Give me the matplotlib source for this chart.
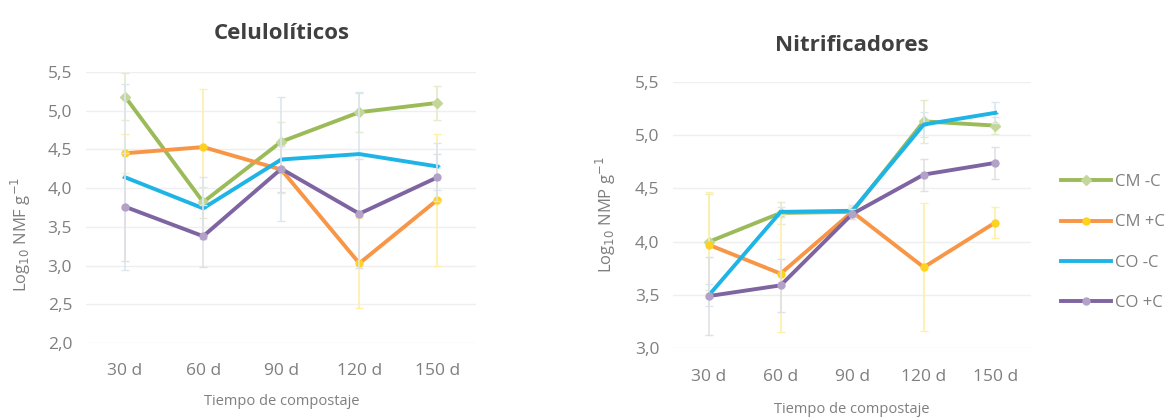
import matplotlib.pyplot as plt
from matplotlib.ticker import FuncFormatter, MultipleLocator
import numpy as np

days = ["30 d", "60 d", "90 d", "120 d", "150 d"]
series = ["CM -C", "CM +C", "CO -C", "CO +C"]

# Celuloliticos (log10 NMF g-1)
cel_cm_mc = [5.18, 3.82, 4.60, 4.98, 5.10]
cel_cm_pc = [4.45, 4.53, 4.24, 3.03, 3.85]
cel_co_mc = [4.14, 3.74, 4.37, 4.44, 4.28]
cel_co_pc = [3.76, 3.38, 4.25, 3.67, 4.14]
cel_err_cm_mc = [0.30, 0.20, 0.25, 0.25, 0.22]
cel_err_cm_pc = [0.25, 0.75, 0.30, 0.58, 0.85]
cel_err_co_mc = [1.20, 0.40, 0.80, 0.80, 0.30]
cel_err_co_pc = [0.70, 0.40, 0.30, 0.70, 0.30]

# Nitrificadores (log10 NMP g-1)
nit_cm_mc = [4.00, 4.27, 4.28, 5.13, 5.09]
nit_cm_pc = [3.97, 3.70, 4.28, 3.76, 4.18]
nit_co_mc = [3.50, 4.28, 4.29, 5.10, 5.21]
nit_co_pc = [3.49, 3.59, 4.26, 4.63, 4.74]
nit_err_cm_mc = [0.45, 0.10, 0.05, 0.20, 0.08]
nit_err_cm_pc = [0.50, 0.55, 0.05, 0.60, 0.15]
nit_err_co_mc = [0.10, 0.05, 0.05, 0.12, 0.10]
nit_err_co_pc = [0.37, 0.25, 0.05, 0.15, 0.15]

colors = ["#9BBB59", "#F79646", "#1EB4E6", "#7F64A2"]
err_colors = ["#E3ECCB", "#FFEFA8", "#DCE6EE", "#E0E0E6"]
markers = ["D", "o", "_", "o"]
mfc = ["#C4D79B", "#FFD21F", "#1EB4E6", "#B3A2C7"]
TXT = "#7F7F7F"

plt.rcParams["font.family"] = ["Open Sans", "DejaVu Sans"]

fig = plt.figure(figsize=(11.69, 4.18), dpi=100)
ax1 = fig.add_axes([0.0736, 0.179, 0.334, 0.649])
ax2 = fig.add_axes([0.576, 0.167, 0.306, 0.637])

comma = FuncFormatter(lambda v, p: f"{v:.1f}".replace(".", ","))
x = np.arange(len(days))


def draw(ax, vals, errs, ylim, title, ylabel, tpad, xpad, tipad, ycoords):
    lines = []
    for i, (v, e) in enumerate(zip(vals, errs)):
        cont = ax.errorbar(x, v, yerr=e, color=colors[i], ecolor=err_colors[i],
                           elinewidth=1.2, capsize=3, capthick=1, lw=2.8,
                           marker=markers[i], ms=5, mfc=mfc[i], mec=mfc[i],
                           zorder=3 + i)
        lines.append(cont[0])
    ax.set_xlim(-0.5, len(days) - 0.5)
    ax.set_ylim(*ylim)
    ax.yaxis.set_major_locator(MultipleLocator(0.5))
    ax.yaxis.set_major_formatter(comma)
    ax.set_xticks(x)
    ax.set_xticklabels(days)
    ax.grid(axis="y", color="#EFEFEF", lw=1)
    ax.set_axisbelow(True)
    for s in ax.spines.values():
        s.set_visible(False)
    ax.tick_params(length=0, colors=TXT, labelsize=12.5, pad=10)
    ax.tick_params(axis="x", pad=tpad)
    ax.set_title(title, fontsize=16, fontweight="bold", color="#404040", pad=tipad)
    ax.set_xlabel("Tiempo de compostaje", fontsize=10.5, color=TXT, labelpad=xpad)
    ax.set_ylabel(ylabel, fontsize=12, color=TXT)
    ax.yaxis.set_label_coords(*ycoords)
    return lines


draw(ax1, [cel_cm_mc, cel_cm_pc, cel_co_mc, cel_co_pc],
     [cel_err_cm_mc, cel_err_cm_pc, cel_err_co_mc, cel_err_co_pc],
     (2.0, 5.5), "Celulolíticos", "Log$_{10}$ NMF g$^{-1}$",
     14, 11, 24, (-0.137, 0.40))
lines = draw(ax2, [nit_cm_mc, nit_cm_pc, nit_co_mc, nit_co_pc],
             [nit_err_cm_mc, nit_err_cm_pc, nit_err_co_mc, nit_err_co_pc],
             (3.0, 5.5), "Nitrificadores", "Log$_{10}$ NMP g$^{-1}$",
             15, 12, 22, (-0.155, 0.50))

fig.legend(lines, series, loc="center left", bbox_to_anchor=(0.895, 0.42),
           frameon=False, fontsize=12, labelcolor=TXT, handlelength=3,
           labelspacing=1.45, handletextpad=0.2)

fig.savefig("out.png", dpi=100, facecolor="white")
